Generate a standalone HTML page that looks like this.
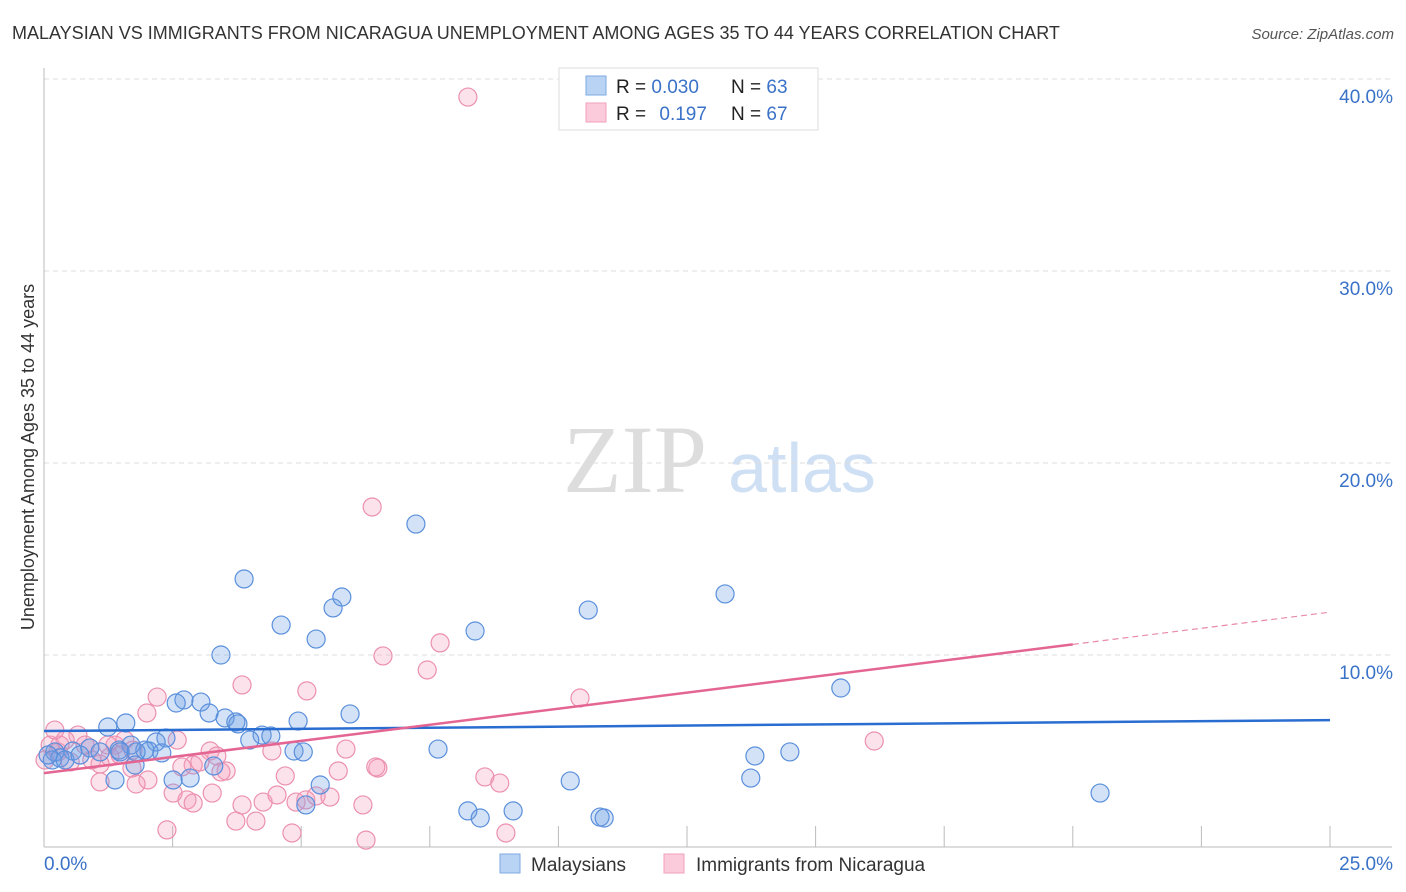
<!DOCTYPE html>
<html><head><meta charset="utf-8"><style>
body{margin:0;background:#fff;font-family:"Liberation Sans",sans-serif}
#wrap{position:relative;width:1406px;height:892px;overflow:hidden}
</style></head><body>
<div id="wrap">
<svg id="svg" width="1406" height="892" xmlns="http://www.w3.org/2000/svg">
<text x="12" y="39" font-size="18" fill="#333">MALAYSIAN VS IMMIGRANTS FROM NICARAGUA UNEMPLOYMENT AMONG AGES 35 TO 44 YEARS CORRELATION CHART</text>
<text x="1394" y="39" font-size="15" fill="#555" font-style="italic" text-anchor="end">Source: ZipAtlas.com</text>
<text x="635" y="492" font-size="96" fill="#ddd" font-family="Liberation Serif,serif" text-anchor="middle">ZIP</text>
<text x="802" y="492" font-size="70" fill="#cfe0f5" text-anchor="middle">atlas</text>
<text transform="translate(34,457) rotate(-90)" font-size="18" fill="#333" text-anchor="middle">Unemployment Among Ages 35 to 44 years</text>
<g id="grid"></g><g id="marks"></g><g id="trend"></g>
<g>
<rect x="559" y="68" width="259" height="62" fill="#fff" stroke="#ddd"/>
<rect x="586" y="76" width="20" height="19" fill="#b9d3f5" stroke="#7fa8e0"/>
<rect x="586" y="103" width="20" height="19" fill="#fbcadb" stroke="#f0a0bb"/>
<text x="616" y="93" font-size="19" fill="#222">R = <tspan fill="#3a72c8">0.030</tspan></text>
<text x="731" y="93" font-size="19" fill="#222">N = <tspan fill="#3a72c8">63</tspan></text>
<text x="616" y="120" font-size="19" fill="#222">R = <tspan fill="#3a72c8" dx="8">0.197</tspan></text>
<text x="731" y="120" font-size="19" fill="#222">N = <tspan fill="#3a72c8">67</tspan></text>
</g>
<g>
<rect x="500" y="854" width="20" height="19" fill="#b9d3f5" stroke="#7fa8e0"/>
<text x="531" y="871" font-size="19" fill="#333">Malaysians</text>
<rect x="664" y="854" width="20" height="19" fill="#fbcadb" stroke="#f0a0bb"/>
<text x="696" y="871" font-size="19" fill="#333">Immigrants from Nicaragua</text>
</g>
</svg></div>
<script>
const yTicks=[10,20,30,40];
const yTickLabels=["10.0%","20.0%","30.0%","40.0%"];
const xTickLabels=["0.0%","25.0%"];
const blueX=[3.89,7.23,4.61,5.62,5.79,5.29,3.44,8.38,10.58,13.24,15.49,2.72,3.05,2.57,3.21,3.52,3.73,3.77,4.24,4.41,4.94,5.95,1.59,1.24,2.37,2.18,1.69,1.96,2.04,2.29,1.46,0.89,1.09,0.56,0.21,0.31,0.16,0.41,0.08,1.48,1.79,4.0,4.86,5.04,7.66,13.82,14.5,2.51,2.84,1.38,5.37,5.09,3.3,10.23,13.74,8.24,8.48,9.12,10.81,10.89,20.53,1.77,0.7];
const blueY=[13.96,16.82,11.56,12.45,13.02,10.83,10.0,11.25,12.34,13.18,8.28,7.66,7.55,7.5,6.98,6.72,6.51,6.41,5.83,5.78,6.56,6.93,6.46,6.25,5.68,5.47,5.31,5.05,5.0,4.9,5.05,5.16,4.95,5.0,4.95,4.64,4.53,4.53,4.79,4.95,4.95,5.57,5.0,4.95,5.1,4.74,4.95,3.49,3.59,3.49,3.23,2.19,4.22,3.44,3.59,1.88,1.51,1.88,1.56,1.51,2.81,4.27,4.79];
const pinkX=[8.24,6.38,7.7,6.59,7.45,10.42,5.11,3.85,2.2,2.0,16.14,5.87,4.43,3.23,3.36,2.59,1.38,0.66,0.41,0.12,0.27,0.89,1.24,1.57,1.73,1.28,0.93,1.09,0.31,2.9,2.68,1.71,2.02,1.79,1.09,3.54,3.44,3.03,4.69,5.72,6.49,6.45,8.57,8.86,2.51,3.27,2.78,2.9,4.26,3.85,4.53,4.9,5.09,5.29,5.56,6.2,3.73,4.12,4.82,2.39,6.26,8.98,0.51,0.02,1.48,0.21,0.8];
const pinkY=[39.06,17.71,10.63,9.95,9.22,7.76,8.13,8.44,7.81,6.98,5.52,5.1,5.0,5.0,4.74,5.57,5.31,5.83,5.57,5.31,4.95,5.16,5.31,5.57,5.05,4.69,4.53,4.32,5.31,4.27,4.17,4.11,3.49,3.28,3.39,3.96,3.91,4.43,3.7,3.96,4.11,4.17,3.65,3.33,2.81,2.81,2.45,2.29,2.34,2.19,2.71,2.34,2.45,2.66,2.6,2.19,1.35,1.35,0.73,0.89,0.36,0.73,4.43,4.53,4.79,6.09,5.31];
const blueTrend=[6.04,6.61];
const pinkTrend=[3.85,12.23];
const X0=44,X1=1330,Y0=847,PY=19.2;
const sx=v=>X0+(X1-X0)*v/25, sy=v=>Y0-v*PY;
const NS="http://www.w3.org/2000/svg";
function mk(t,a,p){const e=document.createElementNS(NS,t);for(const k in a)e.setAttribute(k,a[k]);p.appendChild(e);return e;}
const grid=document.getElementById('grid'),marks=document.getElementById('marks'),trend=document.getElementById('trend');
yTicks.forEach((v,i)=>{
 const l=mk('line',{x1:X0,x2:1392,y1:sy(v),y2:sy(v),stroke:'#ddd','stroke-dasharray':'5,4'},grid);
 
 
 const t=mk('text',{x:1393,y:sy(v)+24,'font-size':19,fill:'#3a72c8','text-anchor':'end'},grid);
 t.textContent=yTickLabels[i];
 
 
});
mk('line',{x1:X0,x2:X0,y1:68,y2:Y0,stroke:'#bbb'},grid);
mk('line',{x1:X0,x2:1392,y1:Y0,y2:Y0,stroke:'#bbb'},grid);
for(let i=1;i<=10;i++){const tk=mk('line',{x1:sx(i*2.5),x2:sx(i*2.5),y1:826,y2:Y0,stroke:'#bbb'},grid);
 
 }
const xl0=mk('text',{x:44,y:870,'font-size':19,fill:'#3a72c8'},grid);xl0.textContent=xTickLabels[0];


const xl1=mk('text',{x:1393,y:870,'font-size':19,fill:'#3a72c8','text-anchor':'end'},grid);xl1.textContent=xTickLabels[1];


function pts(xs,ys,fill,stroke,name){xs.forEach((x,i)=>{const c=mk('circle',{cx:sx(x),cy:sy(ys[i]),r:9,fill:fill,stroke:stroke,'stroke-width':1.2},marks);
 
 });}
pts(pinkX,pinkY,'rgba(244,160,190,0.3)','#ec90b0','point-nicaragua');
pts(blueX,blueY,'rgba(110,160,230,0.3)','#5a8fdc','point-malaysian');
const bl=mk('line',{x1:sx(0),y1:sy(blueTrend[0]),x2:sx(25),y2:sy(blueTrend[1]),stroke:'#2a6dd0','stroke-width':2.5},trend);


const pm=pinkTrend[0]+(pinkTrend[1]-pinkTrend[0])*20/25;
const pl=mk('line',{x1:sx(0),y1:sy(pinkTrend[0]),x2:sx(20),y2:sy(pm),stroke:'#e46592','stroke-width':2.5},trend);


const pd=mk('line',{x1:sx(20),y1:sy(pm),x2:sx(25),y2:sy(pinkTrend[1]),stroke:'#e88aa8','stroke-width':1.2,'stroke-dasharray':'6,4'},trend);


</script>
</body></html>
